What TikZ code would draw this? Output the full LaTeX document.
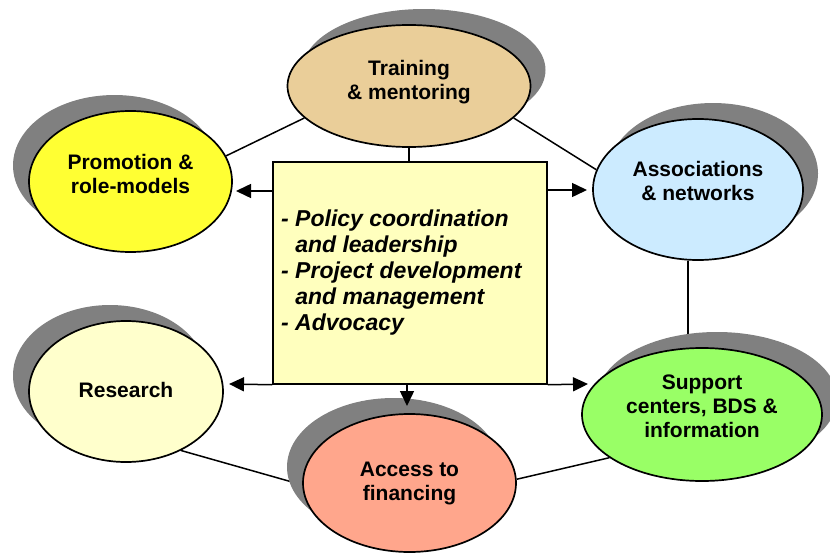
\documentclass[tikz,border=0pt]{standalone}
\usepackage{fontspec}
\setmainfont{Liberation Sans}
\usetikzlibrary{shapes.geometric,shadows,arrows.meta,backgrounds}
\definecolor{trc}{HTML}{EACE99}
\definecolor{prc}{HTML}{FFFF33}
\definecolor{asc}{HTML}{CCEBFF}
\definecolor{rec}{HTML}{FFFFCC}
\definecolor{acc}{HTML}{FFA68C}
\definecolor{suc}{HTML}{99FF66}
\definecolor{bxc}{HTML}{FFFFBE}
\definecolor{shc}{HTML}{808080}
\begin{document}
\begin{tikzpicture}[x=1pt,y=-1pt,
  ell/.style={ellipse,draw=black,line width=1.7pt,inner sep=0pt,align=center,
    font=\fontsize{21}{24}\selectfont\bfseries},
  shUR/.style={drop shadow={shadow xshift=15pt,shadow yshift=16pt,fill=shc,opacity=1}},
  shUL/.style={drop shadow={shadow xshift=-16pt,shadow yshift=16pt,fill=shc,opacity=1}},
  link/.style={line width=1.5pt},
  arr/.style={line width=1.5pt,-{Triangle[length=15pt,width=14pt]}}]
\useasboundingbox (0,0) rectangle (830,554);

% ellipses
\node[ell,shUR,fill=trc,minimum width=243,minimum height=122,text depth=12.4pt] (tr) at (409,86) {Training\\\& mentoring};
\node[ell,shUL,fill=prc,minimum width=203,minimum height=141,text depth=16pt] (pr) at (130.5,181.5) {Promotion \&\\role-models};
\node[ell,shUR,fill=asc,minimum width=210,minimum height=141,text depth=18pt] (as) at (698,189.5) {Associations\\\& networks};
\node[ell,shUL,fill=rec,minimum width=194,minimum height=141,text depth=4pt] (re) at (126,391.5) {Research};
\node[ell,shUL,fill=acc,minimum width=213,minimum height=138] (ac) at (409.5,483) {Access to\\financing};
\node[ell,shUR,fill=suc,minimum width=240,minimum height=133,text depth=16pt] (su) at (702,414.5) {Support\\centers, BDS \&\\information};

% central box
\node[draw=black,line width=1.5pt,fill=bxc,minimum width=274,minimum height=222,inner sep=0pt] (bx) at (410,273) {};
\node[anchor=north west,inner sep=0pt,align=left,
  font=\fontsize{23}{26}\selectfont\bfseries\itshape] (bt) at (281,209.5)
  {- Policy coordination\\\phantom{- }and leadership\\- Project development\\\phantom{- }and management\\- Advocacy};

% plain connectors
\begin{scope}[on background layer]
\draw[link] (tr.197) -- (pr.15);
\draw[link] (tr.343) -- (as.169);
\draw[link] (tr.south) -- (tr.south |- bx.north);
\draw[link] (as.south -| 688,0) -- (su.north -| 688,0);
\draw[link] (re.313) -- (ac.181);
\draw[link] (ac.2) -- (su.205);
\end{scope}

% arrows
\coordinate (tL1) at (236,191);
\coordinate (tR1) at (587,190);
\coordinate (tL2) at (229,384);
\coordinate (tR2) at (588,384);
\coordinate (tD) at (407,406);
\draw[arr] (bx.west |- tL1) -- (tL1);
\draw[arr] (bx.east |- tR1) -- (tR1);
\draw[arr] (bx.south west) -- (tL2);
\draw[arr] (bx.south east) -- (tR2);
\draw[arr] (bx.south -| tD) -- (tD);
\end{tikzpicture}
\end{document}
